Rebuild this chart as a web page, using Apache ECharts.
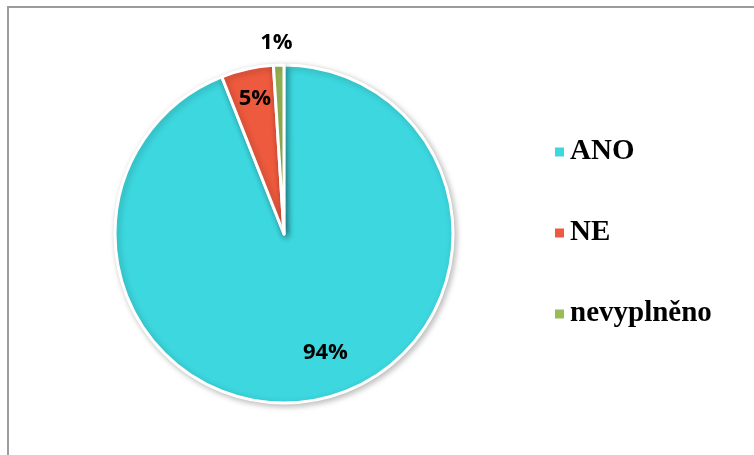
<!DOCTYPE html>
<html>
<head>
<meta charset="utf-8">
<script src="https://cdn.jsdelivr.net/npm/echarts@6/dist/echarts.min.js"></script>
<style>
  html, body { margin: 0; padding: 0; background: #fff; }
  #frame { position: absolute; left: 7px; top: 6px; width: 760px; height: 460px;
           border-left: 2px solid #9c9c9c; border-top: 2px solid #9c9c9c; }
  #chart { position: absolute; left: 0; top: 0; width: 754px; height: 455px; }
</style>
</head>
<body>
<div id="frame"></div>
<div id="chart"></div>
<script>
// Survey answers and their shares (percent)
const categories = ['ANO', 'NE', 'nevyplněno'];
const shares = [94, 5, 1];
const sliceColors = ['#3dd7df', '#ee5a3e', '#9bbb59'];

// Fine placement of the percentage labels
const labelShift = [[25, 33], [-10, -50], [19, -18]];

const chart = echarts.init(document.getElementById('chart'), null, { renderer: 'canvas' });

const data = categories.map((name, i) => {
  const item = { name: name, value: shares[i], itemStyle: { color: sliceColors[i] } };
  if (i === 2) {
    item.label = { position: 'outside' };
    item.labelLine = { show: false, length: 4, length2: 0 };
  }
  return item;
});

chart.setOption({
  animation: false,
  legend: {
    orient: 'vertical',
    left: 548,
    top: 132,
    icon: 'rect',
    itemWidth: 11,
    itemHeight: 11,
    itemGap: 51,
    selectedMode: false,
    textStyle: {
      fontFamily: 'Liberation Serif',
      fontWeight: 'bold',
      fontSize: 29,
      lineHeight: 30,
      color: '#000'
    },
    data: categories
  },
  series: [{
    type: 'pie',
    center: [284, 234],
    radius: 169,
    startAngle: 90,
    clockwise: true,
    avoidLabelOverlap: false,
    itemStyle: {
      borderColor: '#fff',
      borderWidth: 3,
      shadowBlur: 6,
      shadowOffsetX: 2,
      shadowOffsetY: 2,
      shadowColor: 'rgba(0,0,0,0.25)'
    },
    label: {
      show: true,
      position: 'inside',
      formatter: p => p.value + '%',
      fontFamily: 'Open Sans',
      fontWeight: 'bold',
      fontSize: 22,
      color: '#000'
    },
    labelLayout: params => {
      const s = labelShift[params.dataIndex];
      return { dx: s[0], dy: s[1] };
    },
    data: data
  }]
});
</script>
</body>
</html>
